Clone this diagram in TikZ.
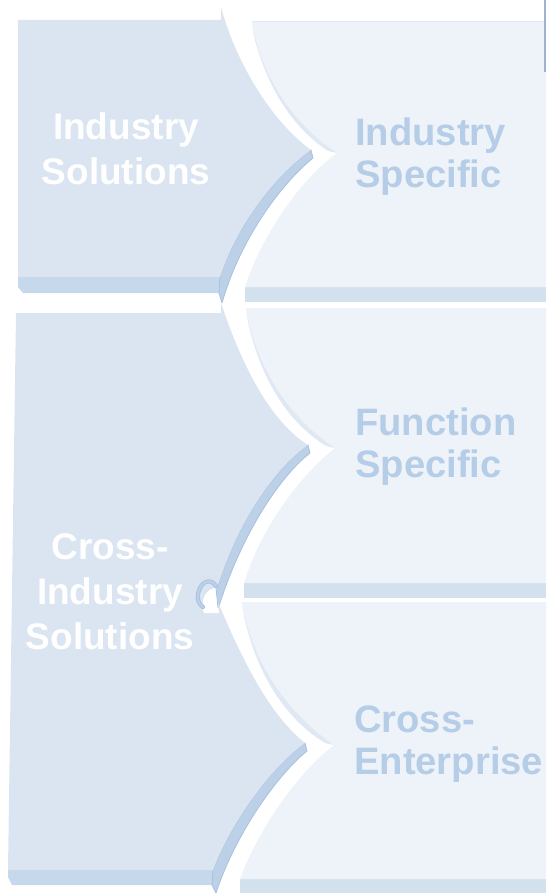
\documentclass[tikz,border=0pt]{standalone}
\usepackage{fontspec}
\setmainfont{Liberation Sans}
\definecolor{lface}{HTML}{DAE5F1}
\definecolor{lstrip}{HTML}{C6D8EB}
\definecolor{lside}{HTML}{BCD1E8}
\definecolor{ledge}{HTML}{A8C1DF}
\definecolor{rface}{HTML}{EEF3F9}
\definecolor{rstrip}{HTML}{D3E1EF}
\definecolor{rshade}{HTML}{E0E9F3}
\definecolor{rtext}{HTML}{B5CDE7}
\definecolor{rline}{HTML}{9FB2D4}
\tikzset{
  lefttext/.style={inner sep=0pt, align=center, text=white, font=\fontsize{37}{45}\selectfont\bfseries},
  righttext/.style={inner sep=0pt, align=left, anchor=west, text=rtext, font=\fontsize{38.2}{42}\selectfont\bfseries},
  sidestrip/.style={fill=lside, draw=ledge, line width=0.8pt, line join=round},
}
\begin{document}
\begin{tikzpicture}[x=1pt,y=-1pt]
\useasboundingbox (0,0) rectangle (546,893);
\clip (0,0) rectangle (546,893);
% ---------- right panels ----------
% panel 1
\fill[rstrip] (245,287) -- (546,287) -- (546,302) -- (245,302) -- cycle;
\fill[rface] (252,22) -- (546,22) -- (546,287) -- (245,287)
  .. controls (262,235) and (300,180) .. (337,153)
  .. controls (295,125) and (262,80) .. (252,22) -- cycle;
\fill[rshade] (252,22) .. controls (262,80) and (295,125) .. (337,153)
  -- (328,151) .. controls (296,130) and (268,92) .. (254,36) -- cycle;
\draw[rshade, line width=1.5pt] (252,21.5) -- (546,21.5);
% panel 2
\fill[rstrip] (244,583) -- (546,583) -- (546,598) -- (244,598) -- cycle;
\fill[rface] (246,308) -- (546,308) -- (546,583) -- (244,583)
  .. controls (260,530) and (300,475) .. (335,448)
  .. controls (292,420) and (256,370) .. (246,308) -- cycle;
\fill[rshade] (246,308) .. controls (256,370) and (292,420) .. (335,448)
  -- (326,446) .. controls (292,425) and (262,385) .. (248,322) -- cycle;
% panel 3
\fill[rstrip] (240,879) -- (546,879) -- (546,893) -- (240,893) -- cycle;
\fill[rface] (242,602) -- (546,602) -- (546,879) -- (240,879)
  .. controls (258,830) and (298,772) .. (334,745)
  .. controls (290,715) and (252,665) .. (242,602) -- cycle;
\fill[rshade] (242,602) .. controls (252,665) and (290,715) .. (334,745)
  -- (325,743) .. controls (290,722) and (258,680) .. (244,616) -- cycle;
\draw[rline, line width=2pt] (545,0) -- (545,72);
% ---------- left shape A ----------
\fill[lstrip] (18,277) -- (220,277) -- (219,293) -- (23,293) -- (18,287) -- cycle;
\path[sidestrip] (311,150) -- (313,158) .. controls (280,185) and (240,240) .. (222,303)
  -- (219,293) -- (220,277) .. controls (236,228) and (272,178) .. (311,150) -- cycle;
\fill[lface] (18,20) -- (221,20) -- (221,7) .. controls (235,60) and (270,120) .. (311,150)
  .. controls (272,178) and (236,228) .. (220,277) -- (18,277) -- cycle;
% ---------- left shape B ----------
\fill[lstrip] (8,870) -- (213,870) -- (213,885) -- (12,885) -- (8,877) -- cycle;
\path[sidestrip] (308,445) -- (310,453) .. controls (276,480) and (240,540) .. (219,606)
  -- (215,595) .. controls (234,530) and (270,472) .. (308,445) -- cycle;
\path[sidestrip] (305,743) -- (307,751) .. controls (274,778) and (234,838) .. (216,893)
  -- (212,885) -- (213,870) .. controls (230,825) and (268,770) .. (305,743) -- cycle;
\fill[lface] (16,313) -- (221,313) -- (221,303) .. controls (240,360) and (268,420) .. (308,445)
  .. controls (270,472) and (234,530) .. (215,595)
  .. controls (238,650) and (266,712) .. (305,743)
  .. controls (268,770) and (230,825) .. (213,870) -- (8,870) -- cycle;
% curl
\fill[white] (216,588) .. controls (207,588) and (199,600) .. (204,613) -- (219,613) -- cycle;
\draw[ledge, line width=4.2pt, line cap=round] (216,586) .. controls (210,577) and (200,582) .. (198,594) .. controls (197,600) and (199,604) .. (203,607);
\draw[lside, line width=2.4pt, line cap=round] (216,586) .. controls (210,577) and (200,582) .. (198,594) .. controls (197,600) and (199,604) .. (203,607);
\draw[ledge, line width=0.8pt] (216,588) -- (218,608);
% ---------- texts ----------
\node[lefttext] (indsol) at (126,149) {Industry\\Solutions};
\node[lefttext] (crosssol) at (110,592) {Cross-\\Industry\\Solutions};
\node[righttext] (indspec) at (355,157) {Industry\\Specific};
\node[righttext] (funcspec) at (355,447) {Function\\Specific};
\node[righttext] (crossent) at (354,744) {Cross-\\Enterprise};
\end{tikzpicture}
\end{document}
